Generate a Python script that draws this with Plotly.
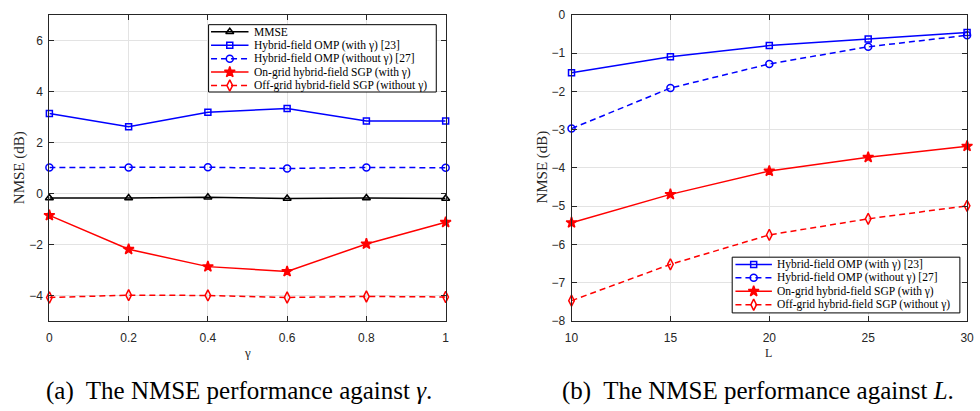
import plotly.graph_objects as go

FIG_W, FIG_H = 980, 411

# ---------------- NMSE (dB) versus gamma ----------------
gamma = [0, 0.2, 0.4, 0.6, 0.8, 1.0]
mmse_gamma = [-0.18, -0.18, -0.15, -0.20, -0.18, -0.20]
omp_with_gamma = [3.14, 2.62, 3.19, 3.33, 2.84, 2.84]
omp_without_gamma = [1.02, 1.02, 1.03, 0.98, 1.02, 1.01]
sgp_on_gamma = [-0.86, -2.19, -2.87, -3.06, -1.98, -1.13]
sgp_off_gamma = [-4.08, -3.99, -4.00, -4.08, -4.04, -4.06]

# ---------------- NMSE (dB) versus number of paths L ----------------
paths = [10, 15, 20, 25, 30]
omp_with_L = [-1.51, -1.09, -0.80, -0.63, -0.46]
omp_without_L = [-2.97, -1.91, -1.28, -0.83, -0.53]
sgp_on_L = [-5.43, -4.69, -4.08, -3.72, -3.43]
sgp_off_L = [-7.47, -6.52, -5.75, -5.33, -4.99]

gamma_ticks = [0, 0.2, 0.4, 0.6, 0.8, 1]
gamma_tick_text = ["0", "0.2", "0.4", "0.6", "0.8", "1"]
nmse_ticks_a = [-4, -2, 0, 2, 4, 6]
paths_ticks = [10, 15, 20, 25, 30]
nmse_ticks_b = [-8, -7, -6, -5, -4, -3, -2, -1, 0]

BLUE, RED, BLACK, INK = "#0000ff", "#ff0000", "#000000", "#262626"
DASH = "6px,4px"
SANS = "Liberation Sans"
SERIF = "Liberation Serif"

styles = {
    "mmse": dict(name="MMSE", color=BLACK, dash="solid",
                 symbol="triangle-up-open", size=7),
    "omp_with": dict(name="Hybrid-field OMP (with γ) [23]", color=BLUE,
                     dash="solid", symbol="square-open", size=6),
    "omp_without": dict(name="Hybrid-field OMP (without γ) [27]", color=BLUE,
                        dash=DASH, symbol="circle-open", size=7),
    "sgp_on": dict(name="On-grid hybrid-field SGP (with γ)", color=RED,
                   dash="solid", symbol="star", size=8),
    "sgp_off": dict(name="Off-grid hybrid-field SGP (without γ)", color=RED,
                    dash=DASH, symbol="diamond-tall-open", size=8),
}


def marker_of(s):
    return dict(symbol=s["symbol"], size=s["size"], color=s["color"],
                line=dict(color=s["color"], width=1.5))


def series(x, y, key, xa, ya):
    s = styles[key]
    return go.Scatter(x=x, y=y, mode="lines+markers", xaxis=xa, yaxis=ya,
                      line=dict(color=s["color"], width=1.5, dash=s["dash"]),
                      marker=marker_of(s), cliponaxis=False,
                      showlegend=False, name=s["name"])


fig = go.Figure()

# panel (a)
fig.add_trace(series(gamma, mmse_gamma, "mmse", "x", "y"))
fig.add_trace(series(gamma, omp_with_gamma, "omp_with", "x", "y"))
fig.add_trace(series(gamma, omp_without_gamma, "omp_without", "x", "y"))
fig.add_trace(series(gamma, sgp_on_gamma, "sgp_on", "x", "y"))
fig.add_trace(series(gamma, sgp_off_gamma, "sgp_off", "x", "y"))

# panel (b)
fig.add_trace(series(paths, omp_with_L, "omp_with", "x2", "y2"))
fig.add_trace(series(paths, omp_without_L, "omp_without", "x2", "y2"))
fig.add_trace(series(paths, sgp_on_L, "sgp_on", "x2", "y2"))
fig.add_trace(series(paths, sgp_off_L, "sgp_off", "x2", "y2"))


# framed legends drawn on a full-figure pixel overlay (x3/y3)
def add_legend(box, keys, first_row, step, sample, text_x):
    x0, y0, x1, y1 = box
    fig.add_trace(go.Scatter(
        x=[x0, x1, x1, x0, x0], y=[y0, y0, y1, y1, y0], mode="lines",
        fill="toself", fillcolor="white", line=dict(color=BLACK, width=1),
        xaxis="x3", yaxis="y3", hoverinfo="skip", showlegend=False))
    for i, key in enumerate(keys):
        s = styles[key]
        row = first_row + i * step
        fig.add_trace(go.Scatter(
            x=[sample[0], sample[1]], y=[row, row], mode="lines",
            line=dict(color=s["color"], width=1.5, dash=s["dash"]),
            xaxis="x3", yaxis="y3", hoverinfo="skip", showlegend=False))
        fig.add_trace(go.Scatter(
            x=[(sample[0] + sample[1]) / 2], y=[row], mode="markers",
            marker=marker_of(s), xaxis="x3", yaxis="y3",
            hoverinfo="skip", showlegend=False))
        fig.add_annotation(
            x=text_x, y=row, xref="x3", yref="y3", text=s["name"],
            showarrow=False, xanchor="left", yanchor="middle",
            font=dict(family=SERIF, size=11.5, color=BLACK))


add_legend((204.5, 18.3, 435.5, 88.0),
           ["mmse", "omp_with", "omp_without", "sgp_on", "sgp_off"],
           25.7, 13.9, (207, 245), 248.5)
add_legend((735.7, 259.0, 966.7, 316.7),
           ["omp_with", "omp_without", "sgp_on", "sgp_off"],
           266.5, 13.9, (739, 776), 779.5)

# axis titles and captions
text_items = [
    dict(x=13, y=166, text="NMSE (dB)", textangle=-90, size=15, color=INK),
    dict(x=543, y=166, text="NMSE (dB)", textangle=-90, size=15, color=INK),
    dict(x=244, y=358, text="γ", textangle=0, size=13, color=INK),
    dict(x=773, y=358, text="L", textangle=0, size=12, color=INK),
    dict(x=235, y=398, text="(a)  The NMSE performance against <i>γ</i>.",
         textangle=0, size=25, color=BLACK),
    dict(x=762, y=398, text="(b)  The NMSE performance against <i>L</i>.",
         textangle=0, size=25, color=BLACK),
]
for t in text_items:
    fig.add_annotation(x=t["x"], y=t["y"], xref="x3", yref="y3", text=t["text"],
                       textangle=t["textangle"], showarrow=False,
                       xanchor="center", yanchor="middle",
                       font=dict(family=SERIF, size=t["size"], color=t["color"]))

axis_common = dict(showline=True, linecolor=INK, linewidth=1, mirror="ticks",
                   ticks="inside", ticklen=5, tickcolor=INK, tickwidth=1,
                   showgrid=True, gridcolor="#e3e3e3", gridwidth=1,
                   zeroline=False, tickfont=dict(family=SANS, size=12, color=INK),
                   fixedrange=True)

y_dom = [1 - 325 / FIG_H, 1 - 8.3 / FIG_H]
fig.update_layout(
    width=FIG_W, height=FIG_H, autosize=False,
    margin=dict(l=0, r=0, t=0, b=0),
    paper_bgcolor="white", plot_bgcolor="rgba(0,0,0,0)",
    showlegend=False,
    xaxis=dict(domain=[43 / FIG_W, 445 / FIG_W], range=[0, 1], anchor="y",
               tickvals=gamma_ticks, ticktext=gamma_tick_text,
               ticklabelstandoff=6, **axis_common),
    yaxis=dict(domain=y_dom, range=[-5, 7], anchor="x",
               tickvals=nmse_ticks_a, ticklabelstandoff=3, **axis_common),
    xaxis2=dict(domain=[572.7 / FIG_W, 974 / FIG_W], range=[10, 30], anchor="y2",
                tickvals=paths_ticks, ticklabelstandoff=6, **axis_common),
    yaxis2=dict(domain=y_dom, range=[-8, 0], anchor="x2",
                tickvals=nmse_ticks_b, ticklabelstandoff=3, **axis_common),
    xaxis3=dict(domain=[0, 1], range=[0, FIG_W], anchor="y3", visible=False,
                fixedrange=True),
    yaxis3=dict(domain=[0, 1], range=[FIG_H, 0], anchor="x3", visible=False,
                fixedrange=True),
)

fig.write_html("out.html")
